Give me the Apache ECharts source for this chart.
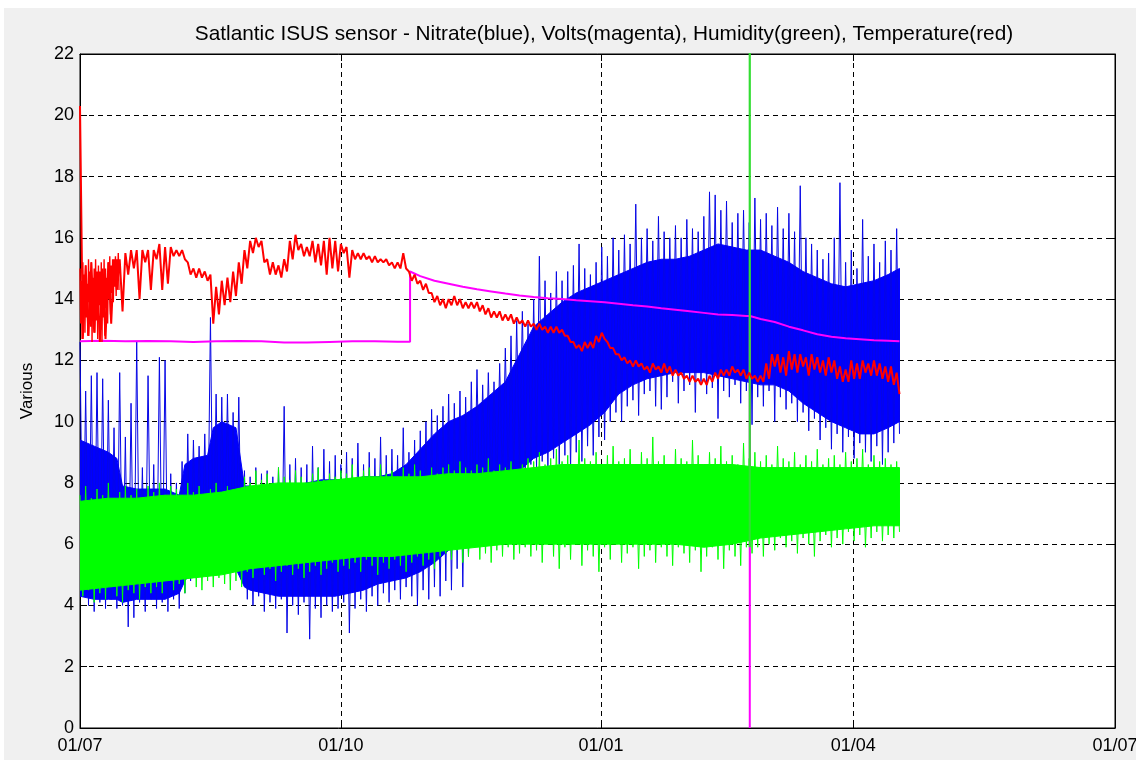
<!DOCTYPE html>
<html>
<head>
<meta charset="utf-8">
<title>Satlantic ISUS sensor</title>
<script src="https://cdn.jsdelivr.net/npm/echarts@6/dist/echarts.min.js"></script>
<style>
  html, body { margin: 0; padding: 0; background: #ffffff; }
  #chart { position: absolute; left: 0; top: 0; width: 1136px; height: 760px; }
</style>
</head>
<body>
<div id="chart"></div>
<script>
// ---- Text ----
const chartTitle = 'Satlantic ISUS sensor - Nitrate(blue), Volts(magenta), Humidity(green), Temperature(red)';
const yAxisTitle = 'Various';

// ---- X axis: days since 1 July, labelled at the start of each quarter ----
const quarterDays = [0, 92, 183.7, 272.7, 365];
const quarterLabels = ['01/07', '01/10', '01/01', '01/04', '01/07'];

// ---- Spike extremes, one pair every 2 days (high at day 2i, low at day 2i+1) ----
const nitrateSpikeHi = [
  12.6, 11.0, 11.5, 11.6, 11.4, 10.7, 9.8, 11.6, 9.5, 10.6,
  12.6, 8.5, 11.5, 8.6, 12.1, 12.0, 8.3, 8.0, 8.7, 9.6,
  9.4, 9.2, 9.6, 13.4, 10.9, 10.8, 10.9, 10.3, 10.8, 8.4,
  8.2, 8.5, 8.3, 8.4, 8.2, 8.5, 10.5, 8.6, 8.8, 8.5,
  8.6, 9.2, 8.5, 9.1, 8.7, 8.9, 8.6, 9.0, 8.8, 9.3,
  8.6, 9.0, 8.8, 9.5, 8.9, 9.1, 8.9, 9.8, 9.0, 9.4,
  9.7, 10.0, 10.4, 10.2, 10.5, 10.9, 10.6, 11.0, 10.8, 11.3,
  11.7, 11.2, 11.6, 11.3, 11.9, 12.4, 12.8, 13.3, 13.6, 13.2,
  14.0, 15.4, 14.6, 14.2, 14.9, 14.6, 14.9, 15.1, 15.8, 15.0,
  14.8, 15.2, 15.7, 15.4, 16.0, 15.6, 16.1, 15.8, 17.1, 16.0,
  16.3, 15.9, 16.7, 16.2, 16.0, 16.4, 16.0, 16.6, 16.3, 16.2,
  16.7, 17.5, 17.4, 16.9, 17.2, 16.5, 16.8, 16.9, 16.5, 17.3,
  16.6, 16.8, 16.4, 17.0, 16.3, 16.8, 16.2, 17.7, 16.0, 15.8,
  15.6, 15.3, 15.5, 16.0, 17.8, 15.2, 15.6, 15.0, 16.6, 15.4,
  15.8, 15.2, 15.9, 15.6, 16.3
];
const nitrateSpikeLo = [
  4.6, 4.0, 3.8, 4.1, 3.9, 4.2, 3.9, 4.0, 3.3, 3.6,
  4.1, 3.8, 4.2, 3.9, 4.1, 3.8, 4.2, 3.9, 4.4, 4.8,
  5.3, 5.4, 5.4, 5.3, 5.5, 5.4, 5.5, 5.3, 5.0, 4.2,
  4.0, 4.3, 3.8, 4.1, 3.9, 4.2, 3.1, 4.0, 3.7, 4.1,
  2.9, 3.9, 3.6, 4.0, 3.8, 3.9, 4.1, 3.1, 3.9, 4.2,
  3.8, 4.3, 4.0, 4.4, 4.1, 4.5, 4.2, 4.6, 4.3, 4.0,
  4.5, 4.2, 4.6, 4.3, 4.8, 4.5, 5.2, 4.6, 5.6, 6.5,
  7.0, 7.3, 7.5, 7.8, 7.9, 8.0, 8.2, 8.3, 8.4, 8.6,
  8.5, 8.7, 8.4, 8.8, 8.6, 8.9, 8.4, 9.0, 8.7, 9.2,
  8.9, 9.5, 9.4, 10.0, 10.3, 10.0, 10.5, 10.7, 10.2, 10.9,
  11.0, 10.5, 10.4, 10.8, 11.3, 10.6, 11.0, 11.2, 10.3, 11.3,
  10.9, 11.1, 10.1, 11.0, 10.8, 11.2, 10.6, 11.0, 9.9, 10.8,
  10.5, 11.0, 10.0, 10.8, 10.4, 10.6, 10.0, 10.3, 9.7, 10.1,
  9.4, 9.8, 9.1, 9.6, 9.0, 9.5, 8.8, 9.3, 9.0, 8.7,
  9.2, 8.6, 9.0, 9.3, 9.6
];
const humiditySpikeHi = [
  7.6, 7.9, 7.5, 7.8, 7.6, 8.0, 7.5, 7.7, 7.9, 7.6, 7.8, 7.5, 7.9,
  7.7, 8.0, 7.6, 7.9, 7.8, 7.6, 8.0, 7.7, 7.9, 7.6, 7.8, 8.0, 7.7, 7.9, 7.6, 7.8,
  8.2, 8.0, 8.4, 8.1, 8.3, 8.0, 8.5, 8.2, 8.1, 8.4, 8.2, 8.0, 8.3, 8.5, 8.1, 8.3, 8.2, 8.4,
  8.3, 8.6, 8.2, 8.4, 8.5, 8.2, 8.6, 8.3, 8.4, 8.2, 8.5, 8.3, 8.6, 8.4, 8.2, 8.5, 8.3,
  8.5, 8.6, 8.4, 8.7, 8.5, 8.4, 8.6, 8.5, 8.8, 8.4, 8.6, 8.5, 8.7, 8.4, 8.6, 8.8,
  8.7, 9.0, 8.6, 8.8, 9.1, 8.7, 8.9, 8.6, 9.4, 8.8, 8.7, 9.0, 8.6, 8.9, 9.2, 8.7, 8.8, 9.1, 8.6, 9.0, 8.8, 9.5, 8.7,
  8.9, 8.6, 9.1, 8.8, 8.7, 9.4, 8.9, 8.6, 9.0, 8.8, 9.2, 8.7, 8.9, 8.6, 9.3, 8.8, 9.0, 8.7,
  8.9, 8.6, 9.2, 8.8, 8.7, 9.0, 8.6, 8.9, 8.7, 9.1, 8.6, 8.8, 8.9, 8.6, 9.0, 8.7, 8.8, 9.1, 8.6, 8.9, 8.7, 8.8, 8.6, 8.7
];
const humiditySpikeLo = [
  4.3, 4.5, 4.1, 4.4, 4.2, 4.6, 4.3, 4.1, 4.5, 4.4, 4.2, 4.6, 4.4,
  4.6, 4.4, 4.8, 4.5, 4.7, 4.4, 4.9, 4.6, 4.5, 4.8, 4.6, 4.9, 4.7, 4.5, 4.8, 4.6,
  5.1, 4.9, 5.3, 5.0, 5.2, 4.8, 5.1, 5.3, 5.0, 5.2, 4.9, 5.1, 5.3, 5.0, 5.2, 5.4, 5.1, 5.3,
  5.2, 5.4, 5.1, 5.5, 5.3, 5.0, 5.4, 5.2, 5.5, 5.3, 5.1, 5.4, 5.6, 5.3, 5.5, 5.2, 5.6,
  5.7, 5.5, 5.8, 5.4, 5.6, 5.9, 5.5, 5.7, 5.4, 5.8, 5.6, 5.9, 5.5, 5.7, 5.9, 5.6,
  5.8, 5.4, 6.0, 5.6, 5.2, 5.9, 5.5, 6.0, 5.3, 5.8, 5.6, 5.1, 5.9, 5.5, 6.0, 5.4, 5.7, 5.9, 5.2, 5.6, 5.8, 5.4, 5.9,
  5.6, 5.3, 5.9, 5.7, 5.4, 5.8, 5.1, 5.6, 5.9, 5.5, 5.2, 5.8, 5.6, 5.3, 5.9, 5.7, 5.9, 5.6,
  6.0, 5.8, 6.2, 5.9, 6.1, 5.7, 6.2, 6.0, 5.6, 6.1, 6.3, 5.9, 6.2, 6.0, 6.4, 6.1, 6.3, 5.9, 6.2, 6.4, 6.1, 6.3, 6.2, 6.4
];
const temperatureHi = [
  20.3, 15.1, 15.2, 14.9, 15.0, 15.2, 15.3, 15.3, 15.5, 15.6,
  15.6, 15.6, 15.6, 15.6, 15.8, 15.7, 15.7, 15.6, 15.6, 15.2,
  15.0, 15.0, 14.9, 14.8, 14.4, 14.6, 14.7, 14.9, 15.2, 15.6,
  15.9, 16.0, 15.9, 15.3, 15.2, 15.1, 15.3, 15.9, 16.1, 15.8,
  15.7, 15.9, 15.8, 15.9, 16.0, 15.9, 15.8, 15.7, 15.6, 15.5,
  15.5, 15.4, 15.4, 15.3, 15.3, 15.2, 15.2, 15.5, 14.9, 14.8,
  14.6, 14.5, 14.2, 14.1, 14.0, 14.0, 14.1, 14.0, 13.9, 13.9,
  13.9, 13.8, 13.7, 13.6, 13.6, 13.5, 13.5, 13.4, 13.3, 13.3,
  13.2, 13.2, 13.1, 13.1, 13.1, 13.0, 12.8, 12.6, 12.5, 12.6,
  12.6, 12.8, 12.9, 12.6, 12.4, 12.2, 12.1, 12.0, 12.0, 11.9,
  11.8, 11.9, 11.8, 11.9, 11.8, 11.7, 11.6, 11.5, 11.5, 11.4,
  11.4, 11.5, 11.6, 11.7, 11.7, 11.8, 11.7, 11.7, 11.6, 11.5,
  11.5, 11.9, 12.2, 12.2, 12.1, 12.3, 12.2, 12.2, 12.1, 12.2,
  12.1, 12.0, 12.1, 12.0, 11.8, 11.7, 12.0, 11.9, 12.0, 11.9,
  12.0, 11.9, 11.8, 11.8, 11.6
];
const temperatureLo = [
  12.7, 12.8, 12.9, 12.6, 12.7, 13.2, 14.3, 13.6, 14.8, 15.0,
  14.0, 15.2, 14.3, 15.3, 14.3, 14.5, 15.4, 15.4, 15.3, 14.8,
  14.7, 14.7, 14.6, 13.2, 13.5, 13.8, 13.9, 14.1, 14.5, 15.0,
  15.5, 15.7, 15.2, 14.8, 14.8, 14.7, 14.9, 15.3, 15.6, 15.4,
  15.4, 15.2, 15.1, 14.8, 15.0, 14.9, 15.5, 14.7, 15.3, 15.3,
  15.3, 15.2, 15.2, 15.2, 15.1, 15.0, 15.0, 15.0, 14.6, 14.5,
  14.3, 14.2, 13.9, 13.8, 13.7, 13.8, 13.8, 13.7, 13.7, 13.7,
  13.6, 13.5, 13.4, 13.4, 13.3, 13.3, 13.2, 13.2, 13.1, 13.1,
  13.0, 13.0, 12.9, 12.9, 12.9, 12.8, 12.6, 12.4, 12.3, 12.4,
  12.4, 12.6, 12.7, 12.4, 12.2, 12.0, 11.9, 11.8, 11.8, 11.7,
  11.6, 11.7, 11.6, 11.6, 11.5, 11.5, 11.4, 11.3, 11.3, 11.2,
  11.2, 11.3, 11.4, 11.5, 11.5, 11.6, 11.5, 11.4, 11.4, 11.3,
  11.3, 11.4, 11.8, 11.6, 11.5, 11.7, 11.6, 11.8, 11.5, 11.7,
  11.6, 11.5, 11.6, 11.4, 11.3, 11.3, 11.4, 11.4, 11.6, 11.5,
  11.5, 11.4, 11.3, 11.2, 10.9
];
// First two weeks of temperature, every half day (the record is very noisy here)
const TEMP_EARLY_STEP = 0.5;
const temperatureEarlyHi = [15.0, 14.6, 15.2, 14.8, 15.1, 14.5, 15.3, 14.9, 15.2, 14.7, 15.0, 15.3, 14.6, 15.1,
  14.9, 15.2, 14.8, 15.3, 15.0, 14.7, 15.2, 15.4, 15.1, 15.3, 15.2, 15.4, 15.3, 15.5];
const temperatureEarlyLo = [13.2, 12.7, 13.6, 12.9, 13.4, 12.8, 13.9, 13.1, 12.6, 13.5, 12.9, 13.3, 12.7, 13.8,
  13.0, 12.6, 13.4, 12.8, 13.7, 13.2, 14.0, 13.5, 14.2, 13.9, 14.4, 14.1, 14.6, 14.3];

// ---- Dense core of the noisy records (solid band) ----
const nitrateCoreDay = [0, 5, 10, 13, 15, 20, 25, 30, 35, 37, 40, 45, 47, 50, 55, 58, 60, 65, 70, 75,
  80, 85, 90, 95, 100, 105, 110, 115, 120, 125, 130, 135, 140, 145, 150, 155, 160, 165, 170, 175,
  180, 185, 190, 195, 200, 205, 210, 215, 220, 225, 230, 235, 240, 245, 250, 255, 260, 265, 270, 275,
  280, 285, 289];
const nitrateCoreHi = [9.4, 9.2, 9.0, 8.8, 7.9, 7.8, 7.8, 7.8, 7.6, 8.6,
  8.8, 8.9, 9.8, 10.0, 9.8, 7.9, 7.9, 7.7, 7.8, 7.9,
  8.0, 8.1, 8.1, 8.1, 8.2, 8.2, 8.3, 8.6, 9.1, 9.6,
  10.0, 10.2, 10.5, 10.9, 11.3, 12.2, 13.1, 13.5, 13.9, 14.2,
  14.4, 14.6, 14.8, 15.0, 15.2, 15.3, 15.3, 15.4, 15.6, 15.8,
  15.7, 15.6, 15.6, 15.4, 15.2, 14.9, 14.7, 14.5, 14.4, 14.5,
  14.6, 14.8, 15.0];
const nitrateCoreLo = [4.3, 4.2, 4.2, 4.2, 4.1, 4.2, 4.2, 4.2, 4.4, 4.8,
  5.2, 5.3, 5.3, 5.3, 5.2, 4.6, 4.5, 4.4, 4.3, 4.3,
  4.3, 4.3, 4.3, 4.4, 4.5, 4.7, 4.8, 4.9, 5.1, 5.4,
  5.8, 6.4, 7.2, 7.6, 8.0, 8.4, 8.8, 9.0, 9.3, 9.6,
  9.9, 10.3, 10.9, 11.2, 11.4, 11.5, 11.6, 11.6, 11.6, 11.5,
  11.4, 11.3, 11.2, 11.2, 11.0, 10.6, 10.3, 10.0, 9.8, 9.6,
  9.6, 9.8, 10.0];
const humidityCoreDay = [0, 10, 20, 30, 40, 50, 60, 70, 80, 90, 100, 110, 120, 130, 140,
  150, 160, 170, 180, 190, 200, 210, 220, 230, 240, 250, 260, 270, 280, 289];
const humidityCoreLo = [4.5, 4.6, 4.7, 4.8, 4.9, 5.0, 5.2, 5.3, 5.4, 5.5, 5.6, 5.6, 5.7, 5.8, 5.9,
  6.0, 6.0, 6.0, 6.0, 6.0, 6.0, 6.0, 5.9, 6.0, 6.2, 6.3, 6.4, 6.5, 6.6, 6.6];
const humidityCoreHi = [7.4, 7.5, 7.5, 7.6, 7.6, 7.7, 7.9, 8.0, 8.0, 8.1, 8.2, 8.2, 8.2, 8.3, 8.3,
  8.4, 8.5, 8.6, 8.6, 8.6, 8.6, 8.6, 8.6, 8.6, 8.5, 8.5, 8.5, 8.5, 8.5, 8.5];

// ---- Humidity spike (runs off the top of the axis) ----
const humidityEventDay = [236.2, 236.2];
const humidityEvent = [5.9, 24];

// ---- Supply voltage ----
const voltsDay = [0, 8, 16, 24, 32, 40, 48, 56, 64, 72, 80, 88, 96, 104, 112, 116.4, 116.4, 120, 125, 130,
  135, 140, 145, 150, 155, 160, 165, 170, 175, 180, 185, 190, 195, 200, 205, 210, 215, 220, 225, 230,
  235, 236.2, 236.2, 236.3, 240, 245, 250, 255, 260, 265, 270, 275, 280, 285, 289];
const volts = [12.62, 12.64, 12.62, 12.63, 12.62, 12.6, 12.62, 12.63, 12.62, 12.58,
  12.58, 12.6, 12.62, 12.62, 12.61, 12.61, 14.9, 14.75, 14.6, 14.5,
  14.4, 14.32, 14.25, 14.18, 14.12, 14.07, 14.03, 14.0, 13.96, 13.93,
  13.9, 13.85, 13.8, 13.76, 13.7, 13.65, 13.6, 13.55, 13.5, 13.48,
  13.45, 13.45, 0, 13.45, 13.35, 13.25, 13.1, 12.98, 12.85, 12.77,
  12.72, 12.69, 12.66, 12.64, 12.62];

// ---- Helpers that turn the arrays into [day, value] points ----
const SPIKE_STEP = 2;
function zigzag(hi, lo, step) {
  const s = step || SPIKE_STEP;
  const pts = [];
  for (let i = 0; i < hi.length; i++) {
    pts.push([i * s, hi[i]]);
    pts.push([i * s + s / 2, lo[i]]);
  }
  return pts;
}
function pairs(days, vals) { return days.map((d, i) => [d, vals[i]]); }

const FONT = 'Liberation Sans, Arial, sans-serif';
const common = { type: 'line', showSymbol: false, symbol: 'none', silent: true, animation: false };

// Solid band between a low and a high envelope, drawn as one polygon in axis coordinates
function band(name, days, lo, hi, color, z) {
  return {
    type: 'custom', name: name, silent: true, animation: false, clip: true, z: z,
    data: days.map((d, i) => [d, lo[i], hi[i]]),
    encode: { x: 0, y: [1, 2] },
    renderItem: function (params, api) {
      if (params.dataIndex !== 0) return null;
      const top = days.map((d, i) => api.coord([d, hi[i]]));
      const bottom = days.map((d, i) => api.coord([d, lo[i]])).reverse();
      return {
        type: 'polygon',
        shape: { points: top.concat(bottom) },
        style: { fill: color, stroke: color, lineWidth: 1 }
      };
    }
  };
}

// Drawing order: nitrate, volts, humidity, temperature (later ones on top)
const series = [
  band('Nitrate core', nitrateCoreDay, nitrateCoreLo, nitrateCoreHi, '#0000ff', 1),
  Object.assign({}, common, {
    name: 'Nitrate', z: 2, data: zigzag(nitrateSpikeHi, nitrateSpikeLo),
    lineStyle: { color: '#0606e6', width: 1 }
  }),
  Object.assign({}, common, {
    name: 'Volts', z: 3, data: pairs(voltsDay, volts),
    lineStyle: { color: '#ff00ff', width: 2 }
  }),
  band('Humidity core', humidityCoreDay, humidityCoreLo, humidityCoreHi, '#00ff00', 4),
  Object.assign({}, common, {
    name: 'Humidity', z: 5, data: zigzag(humiditySpikeHi, humiditySpikeLo),
    lineStyle: { color: '#00ff00', width: 1 }
  }),
  Object.assign({}, common, {
    name: 'Humidity spike', z: 6, data: pairs(humidityEventDay, humidityEvent),
    lineStyle: { color: '#33dd33', width: 2.2 }
  }),
  Object.assign({}, common, {
    name: 'Temperature (early)', z: 7,
    data: zigzag(temperatureEarlyHi, temperatureEarlyLo, TEMP_EARLY_STEP),
    lineStyle: { color: '#ff0000', width: 1.4 }
  }),
  Object.assign({}, common, {
    name: 'Temperature', z: 8, data: zigzag(temperatureHi, temperatureLo),
    lineStyle: { color: '#ff0000', width: 2 }
  })
];

const dashed = { show: true, lineStyle: { color: '#000', width: 1, type: [5, 4] } };
const tickInside = { show: true, inside: true, length: 7, lineStyle: { color: '#000' } };

const chart = echarts.init(document.getElementById('chart'), null, { renderer: 'canvas' });
chart.setOption({
  backgroundColor: '#f0f0f0',
  animation: false,
  title: {
    text: chartTitle, left: 599, top: 19, textAlign: 'center',
    textStyle: { fontFamily: FONT, fontSize: 20.8, fontWeight: 'normal', color: '#000' }
  },
  graphic: [
    { type: 'rect', shape: { x: 0, y: 0, width: 1136, height: 8 }, style: { fill: '#fff' }, silent: true },
    { type: 'rect', shape: { x: 0, y: 0, width: 4, height: 760 }, style: { fill: '#fff' }, silent: true }
  ],
  grid: {
    left: 80, top: 54, right: 21, bottom: 32, outerBoundsMode: 'none', containLabel: false,
    show: true, backgroundColor: '#fff', borderColor: '#000', borderWidth: 1
  },
  xAxis: [
    {
      type: 'value', min: 0, max: 365, position: 'bottom',
      axisLine: { show: true, onZero: false, lineStyle: { color: '#000' } },
      axisTick: Object.assign({}, tickInside, { customValues: quarterDays }),
      axisLabel: {
        customValues: quarterDays, margin: 9, color: '#000', fontFamily: FONT, fontSize: 18,
        formatter: v => quarterLabels[quarterDays.indexOf(v)]
      },
      splitLine: dashed
    },
    {
      type: 'value', min: 0, max: 365, position: 'top',
      axisLine: { show: true, onZero: false, lineStyle: { color: '#000' } },
      axisTick: Object.assign({}, tickInside, { customValues: quarterDays }),
      axisLabel: { show: false },
      splitLine: { show: false }
    }
  ],
  yAxis: [
    {
      type: 'value', min: 0, max: 22, interval: 2, position: 'left',
      name: yAxisTitle, nameLocation: 'middle', nameGap: 44, nameRotate: 90,
      nameTextStyle: { fontFamily: FONT, fontSize: 17, color: '#000' },
      axisLine: { show: true, onZero: false, lineStyle: { color: '#000' } },
      axisTick: tickInside,
      axisLabel: { margin: 6, color: '#000', fontFamily: FONT, fontSize: 18 },
      splitLine: dashed
    },
    {
      type: 'value', min: 0, max: 22, interval: 2, position: 'right',
      axisLine: { show: true, onZero: false, lineStyle: { color: '#000' } },
      axisTick: tickInside,
      axisLabel: { show: false },
      splitLine: { show: false }
    }
  ],
  series: series
});
</script>
</body>
</html>
